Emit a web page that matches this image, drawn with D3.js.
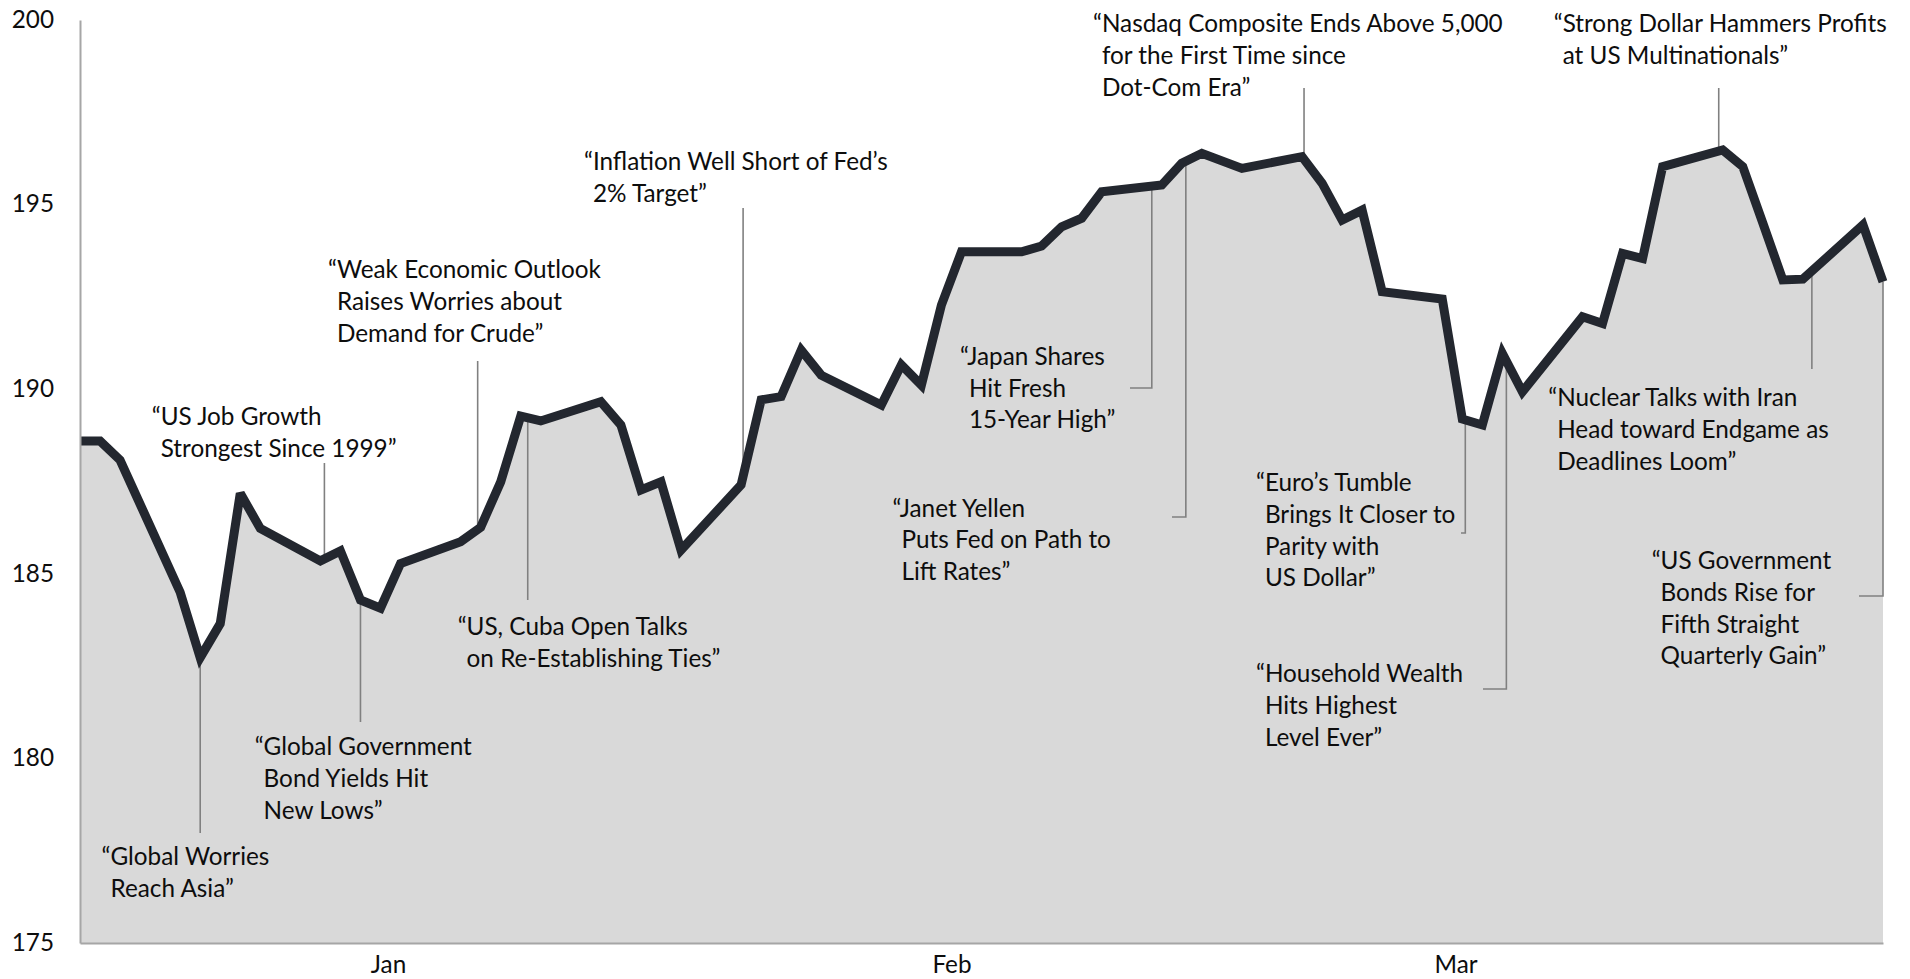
<!DOCTYPE html>
<html>
<head>
<meta charset="utf-8">
<script src="https://cdn.jsdelivr.net/npm/d3@7"></script>
<style>
  html, body { margin: 0; padding: 0; background: #ffffff; }
  svg { display: block; }
  text { font-family: Lato, "Open Sans", sans-serif; fill: #0d0d0d; }
</style>
</head>
<body>
<svg id="chart" width="1910" height="979"></svg>
<script>
// ---------------- data ----------------
const dates = [
  "2014-12-31","2015-01-01","2015-01-02","2015-01-05","2015-01-06","2015-01-07","2015-01-08","2015-01-09",
  "2015-01-12","2015-01-13","2015-01-14","2015-01-15","2015-01-16","2015-01-19","2015-01-20","2015-01-21",
  "2015-01-22","2015-01-23","2015-01-26","2015-01-27","2015-01-28","2015-01-29","2015-01-30",
  "2015-02-02","2015-02-03","2015-02-04","2015-02-05","2015-02-06","2015-02-09","2015-02-10","2015-02-11",
  "2015-02-12","2015-02-13","2015-02-16","2015-02-17","2015-02-18","2015-02-19","2015-02-20",
  "2015-02-23","2015-02-24","2015-02-25","2015-02-27",
  "2015-03-02","2015-03-03","2015-03-04","2015-03-05","2015-03-06","2015-03-09","2015-03-10","2015-03-11",
  "2015-03-12","2015-03-13","2015-03-16","2015-03-17","2015-03-18","2015-03-19","2015-03-20",
  "2015-03-23","2015-03-24","2015-03-25","2015-03-26","2015-03-27","2015-03-30","2015-03-31"
];
const values = [
  188.60,188.60,188.08,184.50,182.73,183.65,187.18,186.23,
  185.35,185.62,184.29,184.07,185.28,185.87,186.26,187.49,
  189.27,189.14,189.66,189.03,187.27,187.49,185.64,
  187.41,189.71,189.80,191.06,190.38,189.57,190.66,190.11,
  192.28,193.72,193.72,193.88,194.40,194.63,195.35,
  195.53,196.12,196.39,195.98,
  196.30,195.58,194.58,194.85,192.64,192.44,189.19,189.03,
  190.97,189.93,191.96,191.78,193.68,193.54,196.03,
  196.48,196.03,194.50,192.96,192.98,194.45,192.91
];
const yTicks = [175, 180, 185, 190, 195, 200];
const monthLabels = ["Jan", "Feb", "Mar"];
const monthLabelDates = ["2015-01-15T09:00", "2015-02-12T12:00", "2015-03-09T16:00"];

const annotationTexts = [
  ["“Global Worries", "Reach Asia”"],
  ["“Global Government", "Bond Yields Hit", "New Lows”"],
  ["“US Job Growth", "Strongest Since 1999”"],
  ["“Weak Economic Outlook", "Raises Worries about", "Demand for Crude”"],
  ["“US, Cuba Open Talks", "on Re-Establishing Ties”"],
  ["“Inflation Well Short of Fed’s", "2% Target”"],
  ["“Janet Yellen", "Puts Fed on Path to", "Lift Rates”"],
  ["“Japan Shares", "Hit Fresh", "15-Year High”"],
  ["“Nasdaq Composite Ends Above 5,000", "for the First Time since", "Dot-Com Era”"],
  ["“Euro’s Tumble", "Brings It Closer to", "Parity with", "US Dollar”"],
  ["“Household Wealth", "Hits Highest", "Level Ever”"],
  ["“Strong Dollar Hammers Profits", "at US Multinationals”"],
  ["“Nuclear Talks with Iran", "Head toward Endgame as", "Deadlines Loom”"],
  ["“US Government", "Bonds Rise for", "Fifth Straight", "Quarterly Gain”"]
];
const annotationDates = [
  "2015-01-06","2015-01-14","2015-01-12","2015-01-20","2015-01-22","2015-02-02","2015-02-24",
  "2015-02-23","2015-03-02","2015-03-10","2015-03-12","2015-03-23","2015-03-27","2015-03-31"
];

// ---------------- layout (positions / styles) ----------------
const plot = { left: 80, right: 1883, top: 20, bottom: 943 };
const lineGap = 31.8;
const annLayout = [
  { tx: 101.6, ty: 859,   dx: 0,   end: 833 },
  { tx: 254.7, ty: 749,   dx: 0,   end: 722 },
  { tx: 151.8, ty: 419,   dx: 4,   end: 463 },
  { tx: 328,   ty: 272,   dx: -3,  end: 361 },
  { tx: 457.7, ty: 629,   dx: 7,   end: 600 },
  { tx: 584,   ty: 164,   dx: 2,   end: 208 },
  { tx: 892.6, ty: 510.6, dx: 4,   end: 517, elbow: 1172 },
  { tx: 960,   ty: 358.7, dx: -10, end: 388, elbow: 1130 },
  { tx: 1093,  ty: 26,    dx: 2,   end: 88 },
  { tx: 1256,  ty: 484.9, dx: 3,   end: 533, elbow: 1461 },
  { tx: 1256,  ty: 675.9, dx: 4,   end: 689, elbow: 1483 },
  { tx: 1553.8,ty: 25.7,  dx: -4,  end: 88 },
  { tx: 1548.3,ty: 400,   dx: 9,   end: 369 },
  { tx: 1651.7,ty: 563,   dx: 0,   end: 596, elbow: 1859 }
];

// ---------------- drawing ----------------
const parse = d3.timeParse("%Y-%m-%d");
const parseT = d3.timeParse("%Y-%m-%dT%H:%M");
const data = dates.map((d, i) => ({ date: parse(d), v: values[i] }));

const x = d3.scaleTime()
  .domain([parse("2014-12-31"), parse("2015-03-31")])
  .range([plot.left, plot.right]);
const y = d3.scaleLinear().domain([175, 200]).range([plot.bottom, plot.top]);

const svg = d3.select("#chart");

const probe = svg.append("text").attr("font-size", 100).text(annotationTexts[8][0]);
const pw = probe.node().getComputedTextLength();
probe.remove();
const fs = pw > 0 ? Math.max(20, Math.min(28, 410 / pw * 100)) : 24;

svg.append("path")
  .datum(data)
  .attr("fill", "#d9d9d9")
  .attr("d", d3.area().x(d => x(d.date)).y0(y(175)).y1(d => y(d.v)));

function lineYAt(px) {
  const xs = data.map(d => x(d.date));
  const i = Math.max(1, Math.min(xs.length - 1, d3.bisectLeft(xs, px)));
  const x0 = xs[i - 1], x1 = xs[i];
  const t = x1 === x0 ? 0 : (px - x0) / (x1 - x0);
  return y(data[i - 1].v + (data[i].v - data[i - 1].v) * Math.max(0, Math.min(1, t)));
}

const leaders = svg.append("g")
  .attr("fill", "none")
  .attr("stroke", "#808080")
  .attr("stroke-width", 1.6);

annotationDates.forEach((ds, i) => {
  const L = annLayout[i];
  const lx = Math.min(plot.right, x(parse(ds)) + L.dx);
  const ly = lineYAt(lx);
  const pts = [[lx, ly], [lx, L.end]];
  if (L.elbow !== undefined) pts.push([L.elbow, L.end]);
  leaders.append("path").attr("d", d3.line()(pts));
});

svg.append("path")
  .datum(data)
  .attr("fill", "none")
  .attr("stroke", "#23272f")
  .attr("stroke-width", 9)
  .attr("stroke-linejoin", "miter")
  .attr("stroke-miterlimit", 3)
  .attr("d", d3.line().x(d => x(d.date)).y(d => y(d.v)));

const yAxis = svg.append("g")
  .attr("transform", `translate(${plot.left},0)`)
  .call(d3.axisLeft(y).tickValues(yTicks).tickSize(0).tickSizeOuter(0).tickPadding(26));
const xAxis = svg.append("g")
  .attr("transform", `translate(0,${plot.bottom})`)
  .call(d3.axisBottom(x).tickValues(monthLabelDates.map(parseT))
        .tickFormat((d, i) => monthLabels[i]).tickSize(0).tickSizeOuter(0).tickPadding(13));
[yAxis, xAxis].forEach(g => {
  g.select(".domain").attr("stroke", "#a6a6a6").attr("stroke-width", 2);
  g.selectAll("text").attr("font-size", fs).attr("font-family", "Lato, 'Open Sans', sans-serif").attr("fill", "#0d0d0d");
});
yAxis.selectAll("text").attr("dy", "0.3em");

const ann = svg.append("g").attr("font-size", fs);
annotationTexts.forEach((lines, i) => {
  const L = annLayout[i];
  const q = ann.append("text").text("“");
  const qw = q.node().getComputedTextLength() || 10;
  q.remove();
  lines.forEach((s, j) => {
    ann.append("text")
      .attr("x", j === 0 ? L.tx : L.tx + qw)
      .attr("y", L.ty + j * lineGap)
      .attr("dy", "0.25em")
      .text(s);
  });
});
</script>
</body>
</html>
